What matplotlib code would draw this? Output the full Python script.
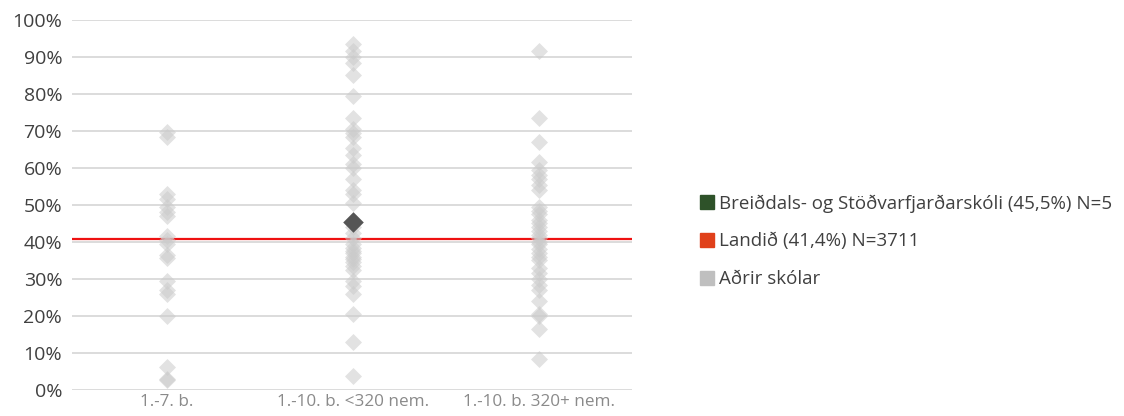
import matplotlib.pyplot as plt
from matplotlib.lines import Line2D

# categories (school groups) and values in percent
categories = ["1.-7. b.", "1.-10. b. <320 nem.", "1.-10. b. 320+ nem."]

group_small = [69.8, 68.5, 53.0, 51.5, 49.5, 48.0, 47.0, 41.5, 40.5, 39.5,
               36.5, 35.8, 29.5, 27.0, 26.0, 20.0, 6.2, 3.0, 2.7]
group_mid = [93.5, 91.5, 90.0, 88.5, 85.0, 79.5, 73.5, 70.5, 69.5, 68.5,
             65.5, 63.5, 61.0, 60.0, 57.0, 54.0, 53.0, 50.5, 44.0, 42.5,
             41.0, 39.5, 38.5, 37.5, 37.0, 36.0, 35.5, 34.5, 33.5, 32.5,
             29.5, 28.0, 26.0, 20.5, 13.0, 3.8]
group_large = [91.5, 73.5, 67.0, 61.5, 59.5, 58.0, 57.0, 55.5, 54.0, 49.5,
               48.5, 47.5, 46.0, 45.0, 44.0, 43.0, 42.0, 41.0, 40.0, 39.5,
               38.0, 37.0, 36.0, 35.0, 33.0, 31.5, 30.0, 28.5, 27.0, 24.0,
               20.5, 20.0, 16.5, 8.3]
other_schools = [group_small, group_mid, group_large]

school_group = 1
school_value = 45.5
national_value = 40.9

labels = ["Breiðdals- og Stöðvarfjarðarskóli (45,5%) N=5",
          "Landið (41,4%) N=3711",
          "Aðrir skólar"]

plt.rcParams['font.family'] = ['Open Sans', 'DejaVu Sans']

fig = plt.figure(figsize=(11.24, 4.16), dpi=100)
ax = fig.add_axes([0.064, 0.0625, 0.498, 0.8895])

for i, vals in enumerate(other_schools):
    ax.scatter([i] * len(vals), vals, marker='D', s=75, color='#cbcbcb',
               alpha=0.55, linewidths=0, zorder=3)

ax.axhline(national_value, color='#ee1111', lw=1.6, zorder=2)
ax.scatter([school_group], [school_value], marker='D', s=110,
           color='#555555', linewidths=0, zorder=4)

ax.set_xlim(-0.51, 2.5)
ax.set_ylim(0, 100)
ax.set_yticks(range(0, 101, 10))
ax.set_yticklabels([f"{v}%" for v in range(0, 101, 10)])
ax.set_xticks(range(len(categories)))
ax.set_xticklabels(categories)
ax.grid(axis='y', color='#d9d9d9', lw=1.3, zorder=0)
ax.set_axisbelow(True)
for s in ax.spines.values():
    s.set_visible(False)
ax.tick_params(axis='y', length=0, pad=7, labelsize=14, labelcolor='#404040')
ax.tick_params(axis='x', length=0, pad=3, labelsize=12.3, labelcolor='#8a8a8a')

handles = [
    Line2D([], [], marker='s', ls='', ms=10, color='#2e5229'),
    Line2D([], [], marker='s', ls='', ms=10, color='#e0401a'),
    Line2D([], [], marker='s', ls='', ms=10, color='#bfbfbf'),
]
fig.legend(handles, labels, loc='center left', bbox_to_anchor=(0.606, 0.42),
           frameon=False, fontsize=13.5, handletextpad=0.1, labelspacing=1.05,
           labelcolor='#404040', handlelength=1.0)

fig.savefig("out.png", dpi=100)
